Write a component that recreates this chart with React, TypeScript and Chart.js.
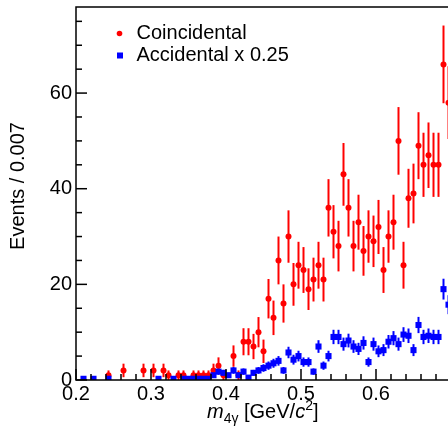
import React, { useEffect, useRef } from "react";
import { Chart, registerables } from "chart.js";

Chart.register(...registerables);

// Histogram binning (bin width 1/150 ≈ 0.007)
const BIN_LO = 0.2;
const BIN_W = 1 / 150;

// Coincidental counts per bin (null = empty bin)
const coincidental: (number | null)[] = [
  null, null, null, null, null, null, 1, null, null, 2,
  null, null, null, 2, null, 2, null, 2, 1, null,
  1, 1, null, 1, 1, 1, 1, 2, 3, 1,
  null, 5, 1, 8, 8, 7, 10, 6, 17, 13,
  25, 16, 30, 20, 24, 23, 19, 21, 24, 21,
  36, 31, 28, 43, 36, 28, 33, 27, 30, 29,
  32, 23, 30, 33, 50, 24, 38, 39, 49, 45,
  47, 45, 45, 66, 58,
];

// Accidental counts x 0.25 per bin
const accidental: (number | null)[] = [
  null, 0.25, null, 0.25, null, null, 0.25, null, null, null,
  null, null, null, null, null, null, 0.25, null, null, 0.25,
  null, 0.25, 0.25, 0.25, 0.25, 0.25, 0.25, 1.0, 1.75, 1.5,
  1.0, 2.0, 1.0, 1.75, 0.5, 1.5, 2.0, 2.5, 3.0, 3.5,
  4.0, 2.0, 5.75, 4.25, 5.0, 3.75, 3.75, 1.75, 7.0, 3.0,
  5.0, 9.0, 9.0, 7.5, 8.25, 7.0, 6.5, 7.75, 3.75, 7.5,
  6.0, 6.25, 8.0, 8.75, 7.5, 9.5, 9.25, 6.25, 11.5, 9.0,
  9.25, 9.0, 9.0, 19.0, 15.75,
];
const ACC_SCALE = 0.25;

const xTickLabels = [0.2, 0.3, 0.4, 0.5, 0.6];
const yTickLabels = [0, 20, 40, 60];
const X_MIN = 0.2, X_MAX = 0.7, X_MINOR = 0.02;
const Y_MIN = 0, Y_MAX = 78, Y_MINOR = 5;

const legendLabels = ["Coincidental", "Accidental x 0.25"];
const yTitle = "Events / 0.007";

const RED = "#ff0000";
const BLUE = "#0000ff";
const FONT = '"Liberation Sans", Arial, Helvetica, sans-serif';

function toPoints(vals: (number | null)[]) {
  const pts: { x: number; y: number }[] = [];
  vals.forEach((v, i) => {
    if (v !== null) pts.push({ x: BIN_LO + BIN_W * (i + 0.5), y: v });
  });
  return pts;
}

const errorBarPlugin = {
  id: "errorBars",
  beforeDatasetsDraw(chart: any) {
    const ctx = chart.ctx;
    const xs = chart.scales.x;
    const ys = chart.scales.y;
    const area = chart.chartArea;
    ctx.save();
    ctx.beginPath();
    ctx.rect(area.left, area.top, area.right - area.left, area.bottom - area.top);
    ctx.clip();
    chart.data.datasets.forEach((ds: any) => {
      ctx.strokeStyle = ds.errColor;
      ctx.lineWidth = 2;
      ds.data.forEach((p: any) => {
        const err = ds.errFn(p.y);
        const px = xs.getPixelForValue(p.x);
        const y1 = ys.getPixelForValue(Math.max(0, p.y - err));
        const y2 = ys.getPixelForValue(p.y + err);
        ctx.beginPath();
        ctx.moveTo(px, y1);
        ctx.lineTo(px, y2);
        ctx.stroke();
      });
    });
    ctx.restore();
  },
};

const rootAxesPlugin = {
  id: "rootAxes",
  afterDraw(chart: any) {
    const ctx = chart.ctx;
    const xs = chart.scales.x;
    const ys = chart.scales.y;
    const a = chart.chartArea;
    ctx.save();
    ctx.strokeStyle = "#000";
    ctx.fillStyle = "#000";
    ctx.lineWidth = 1.5;
    // frame
    ctx.beginPath();
    ctx.rect(a.left, a.top, a.right - a.left, a.bottom - a.top);
    ctx.stroke();

    // y ticks (inward)
    for (let v = Y_MIN; v <= Y_MAX + 1e-9; v += Y_MINOR) {
      const py = ys.getPixelForValue(v);
      const major = Math.abs(v % 20) < 1e-6;
      const len = major ? 11 : 6;
      ctx.beginPath();
      ctx.moveTo(a.left, py);
      ctx.lineTo(a.left + len, py);
      ctx.stroke();
    }
    // x ticks (inward)
    const nMinor = Math.round((X_MAX - X_MIN) / X_MINOR);
    for (let i = 0; i <= nMinor; i++) {
      const v = X_MIN + i * X_MINOR;
      const px = xs.getPixelForValue(v);
      const major = i % 5 === 0;
      const len = major ? 11 : 6;
      ctx.beginPath();
      ctx.moveTo(px, a.bottom);
      ctx.lineTo(px, a.bottom - len);
      ctx.stroke();
    }

    // tick labels
    ctx.font = `20px ${FONT}`;
    ctx.textAlign = "right";
    ctx.textBaseline = "middle";
    yTickLabels.forEach((v) => {
      ctx.fillText(String(v), a.left - 4, ys.getPixelForValue(v));
    });
    ctx.textAlign = "center";
    ctx.textBaseline = "middle";
    xTickLabels.forEach((v) => {
      ctx.fillText(v.toFixed(1), xs.getPixelForValue(v), a.bottom + 14);
    });

    // y title
    ctx.save();
    ctx.translate(18, 186);
    ctx.rotate(-Math.PI / 2);
    ctx.textAlign = "center";
    ctx.textBaseline = "middle";
    ctx.font = `20px ${FONT}`;
    ctx.fillText(yTitle, 0, 0);
    ctx.restore();

    // x title: m_{4γ} [GeV/c^{2}]
    ctx.textAlign = "left";
    ctx.textBaseline = "alphabetic";
    let x = 207;
    const base = 418;
    const parts: [string, string, number][] = [
      ["m", `italic 20px ${FONT}`, 0],
      ["4γ", `14px ${FONT}`, 5],
      [" [GeV/", `20px ${FONT}`, 0],
      ["c", `italic 20px ${FONT}`, 0],
      ["2", `14px ${FONT}`, -8],
      ["]", `20px ${FONT}`, 0],
    ];
    parts.forEach(([t, f, dy]) => {
      ctx.font = f;
      ctx.fillText(t, x, base + dy);
      x += ctx.measureText(t).width;
    });

    // legend
    ctx.font = `20px ${FONT}`;
    ctx.textBaseline = "middle";
    ctx.fillStyle = RED;
    ctx.beginPath();
    ctx.arc(119.5, 33.5, 2.8, 0, Math.PI * 2);
    ctx.fill();
    ctx.fillStyle = BLUE;
    ctx.fillRect(117, 52.5, 6, 6);
    ctx.fillStyle = "#000";
    ctx.fillText(legendLabels[0], 136.5, 33);
    ctx.fillText(legendLabels[1], 136.5, 55);
    ctx.restore();
  },
};

export default function App() {
  const ref = useRef<HTMLCanvasElement | null>(null);
  useEffect(() => {
    if (!ref.current) return;
    const chart = new Chart(ref.current, {
      type: "scatter",
      data: {
        datasets: [
          {
            label: legendLabels[1],
            data: toPoints(accidental),
            pointStyle: "rect",
            pointRadius: 4.3,
            pointBackgroundColor: BLUE,
            pointBorderWidth: 0,
            showLine: false,
            errColor: BLUE,
            errFn: (v: number) => Math.sqrt(v / ACC_SCALE) * ACC_SCALE,
          } as any,
          {
            label: legendLabels[0],
            data: toPoints(coincidental),
            pointStyle: "circle",
            pointRadius: 3,
            pointBackgroundColor: RED,
            pointBorderWidth: 0,
            showLine: false,
            errColor: RED,
            errFn: (v: number) => Math.sqrt(v),
          } as any,
        ],
      },
      options: {
        responsive: false,
        animation: false,
        devicePixelRatio: 1,
        layout: { padding: { left: 76, top: 7, right: 9, bottom: 50 } },
        scales: {
          x: { type: "linear", min: X_MIN, max: X_MAX, display: false },
          y: { type: "linear", min: Y_MIN, max: Y_MAX, display: false },
        },
        plugins: { legend: { display: false }, tooltip: { enabled: false } },
        events: [],
      },
      plugins: [errorBarPlugin, rootAxesPlugin],
    });
    return () => chart.destroy();
  }, []);
  return (
    <div
      style={{
        position: "fixed",
        left: 0,
        top: 0,
        width: 448,
        height: 430,
        overflow: "hidden",
        background: "#fff",
      }}
    >
      <canvas
        ref={ref}
        width={460}
        height={430}
        style={{ display: "block", width: 460, height: 430 }}
      />
    </div>
  );
}
